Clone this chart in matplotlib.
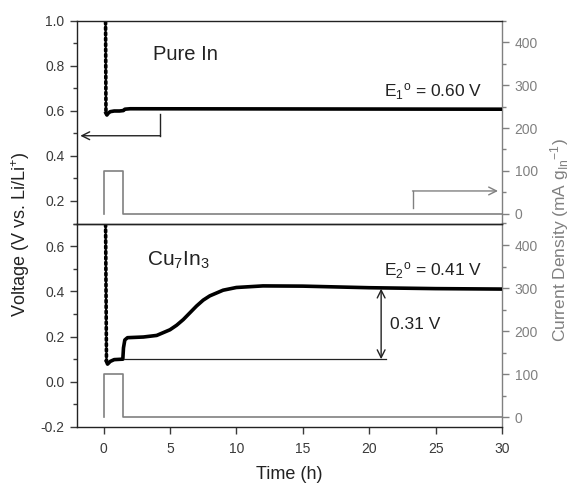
import matplotlib
matplotlib.use("Agg")
import matplotlib.pyplot as plt
from matplotlib.ticker import MultipleLocator

plt.rcParams['font.family'] = ['Liberation Sans', 'DejaVu Sans']
plt.rcParams['mathtext.fontset'] = 'custom'
plt.rcParams['mathtext.rm'] = 'Liberation Sans'
plt.rcParams['mathtext.it'] = 'Liberation Sans'

# ---------------- data ----------------
# Pure In voltage
top_drop_t = [0.15, 0.18]
top_drop_v = [1.02, 0.59]
top_t = [0.18, 0.25, 0.35, 0.5, 0.8, 1.2, 1.5, 1.6, 2.0, 30]
top_v = [0.59, 0.582, 0.59, 0.597, 0.600, 0.600, 0.602, 0.608, 0.610, 0.608]

# Cu7In3 voltage
bot_drop_t = [0.15, 0.22]
bot_drop_v = [0.72, 0.09]
bot_t = [0.22, 0.3, 0.5, 0.8, 1.45, 1.5, 1.6, 1.8, 3, 4, 5, 5.5, 6, 6.5, 7, 7.5,
         8, 9, 10, 12, 15, 20, 25, 30]
bot_v = [0.09, 0.078, 0.09, 0.098, 0.100, 0.15, 0.185, 0.195, 0.198, 0.205, 0.23,
         0.25, 0.275, 0.305, 0.335, 0.361, 0.38, 0.405, 0.417, 0.424, 0.423,
         0.416, 0.412, 0.410]

# current pulse (mA g^-1)
pulse_t = [0, 0, 1.5, 1.5, 30]
pulse_j = [0, 100, 100, 0, 0]

xticks = [0, 5, 10, 15, 20, 25, 30]
top_yticks = [0.2, 0.4, 0.6, 0.8, 1.0]
bot_yticks = [-0.2, 0.0, 0.2, 0.4, 0.6]
j_ticks = [0, 100, 200, 300, 400]

DARK = '#222222'
TICK = '#3a3a3a'
GRAY = '#808080'

fig = plt.figure(figsize=(5.76, 4.88), dpi=100)
L, W = 77/576, (502-77)/576
ax1 = fig.add_axes([L, 1-223.5/488, W, 202.5/488])
ax2 = fig.add_axes([L, 1-427/488, W, 203.5/488])

for ax, ylim, yt in [(ax1, (0.1, 1.0), top_yticks), (ax2, (-0.2, 0.7), bot_yticks)]:
    ax.set_xlim(-2, 30)
    ax.set_ylim(*ylim)
    ax.set_yticks(yt)
    ax.yaxis.set_minor_locator(MultipleLocator(0.1))
    ax.tick_params(axis='y', which='major', direction='out', length=5, width=1,
                   colors=TICK, labelsize=10, pad=4)
    ax.tick_params(axis='y', which='minor', direction='out', length=3, width=1, colors=TICK)
    ax.set_yticklabels([f"{v:.1f}" for v in yt])
    for s in ['left', 'top', 'bottom']:
        ax.spines[s].set_color(DARK)
        ax.spines[s].set_linewidth(1.0)
    ax.spines['right'].set_visible(False)

ax1.set_xticks([])
ax2.set_xticks(xticks)
ax2.tick_params(axis='x', direction='out', length=5, width=1, colors=TICK,
                labelsize=10, pad=6)
ax2.set_xlabel('Time (h)', fontsize=13, color=DARK, labelpad=7)

# twin axes for current
tw = []
for ax in (ax1, ax2):
    t = ax.twinx()
    t.set_ylim(-23, 450)
    t.set_yticks(j_ticks)
    t.yaxis.set_minor_locator(MultipleLocator(50))
    t.tick_params(axis='y', which='major', direction='out', length=5, width=1,
                  colors=GRAY, labelsize=10, pad=4)
    t.tick_params(axis='y', which='minor', direction='out', length=3, width=1, colors=GRAY)
    t.spines['right'].set_color(GRAY)
    t.spines['right'].set_linewidth(1.0)
    for s in ['left', 'top', 'bottom']:
        t.spines[s].set_visible(False)
    t.plot(pulse_t, pulse_j, color=GRAY, lw=1.2)
    tw.append(t)
    ax.set_zorder(t.get_zorder() + 1)
    ax.patch.set_visible(False)

# voltage curves
ax1.plot(top_drop_t, top_drop_v, color='black', lw=2.6, linestyle=(0, (0.6, 0.9)),
         dash_capstyle='round')
ax1.plot(top_t, top_v, color='black', lw=2.6)
ax2.plot(bot_drop_t, bot_drop_v, color='black', lw=2.6, linestyle=(0, (0.6, 0.9)),
         dash_capstyle='round')
ax2.plot(bot_t, bot_v, color='black', lw=2.6)

# texts
ax1.text(3.7, 0.85, 'Pure In', fontsize=14.5, color=DARK, va='center', ha='left')
ax2.text(3.3, 0.535, r'Cu$_7$In$_3$', fontsize=15, color=DARK, va='center', ha='left')
ax1.text(21.1, 0.685, r'E$_1$$^{\mathrm{o}}$ = 0.60 V', fontsize=12.5, color=DARK,
         va='center', ha='left')
ax2.text(21.1, 0.49, r'E$_2$$^{\mathrm{o}}$ = 0.41 V', fontsize=12.5, color=DARK,
         va='center', ha='left')
ax2.text(21.6, 0.253, '0.31 V', fontsize=12.5, color=DARK, va='center', ha='left')

# annotation arrows
ax1.plot([4.25, 4.25], [0.586, 0.49], color=DARK, lw=1.0)
ax1.annotate('', xy=(-1.75, 0.49), xytext=(4.25 + 0.04, 0.49),
             arrowprops=dict(arrowstyle='->', color=DARK, lw=1.0,
                             shrinkA=0, shrinkB=0, mutation_scale=14))
tw[0].plot([23.3, 23.3], [14, 53], color=GRAY, lw=1.0)
tw[0].annotate('', xy=(29.7, 53), xytext=(23.3 - 0.04, 53),
               arrowprops=dict(arrowstyle='->', color=GRAY, lw=1.0,
                               shrinkA=0, shrinkB=0, mutation_scale=14))
ax2.plot([1.55, 21.3], [0.1, 0.1], color=DARK, lw=0.9)
ax2.annotate('', xy=(20.9, 0.412), xytext=(20.9, 0.1),
             arrowprops=dict(arrowstyle='<->', color=DARK, lw=1.0,
                             shrinkA=0, shrinkB=0, mutation_scale=14))

# axis labels
fig.text(0.035, 1-234/488, r'Voltage (V vs. Li/Li$^{+}$)', rotation=90, fontsize=13,
         color=DARK, ha='center', va='center')
fig.text(0.972, 1-240/488, r'Current Density (mA g$_{\mathrm{In}}$$^{-1}$)', rotation=90,
         fontsize=12.5, color=GRAY, ha='center', va='center')

fig.savefig('out.png', dpi=100)
